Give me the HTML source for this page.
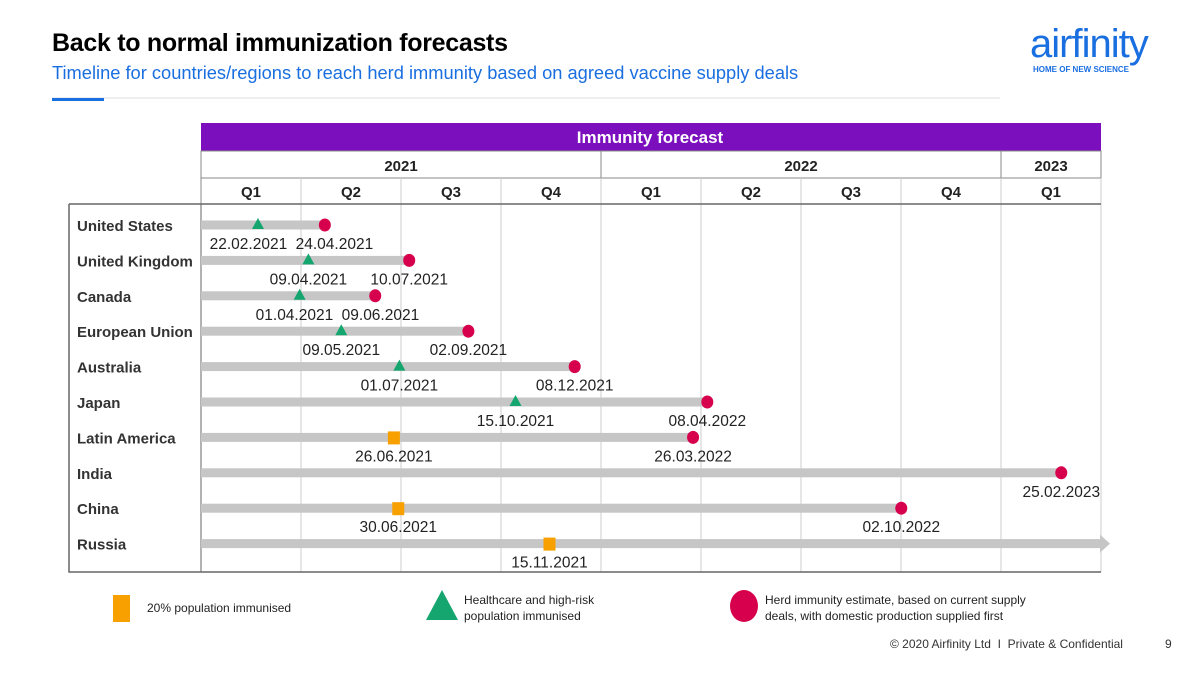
<!DOCTYPE html>
<html><head><meta charset="utf-8"><style>
body{margin:0;width:1200px;height:675px;background:#fff;font-family:"Liberation Sans",sans-serif;overflow:hidden;position:relative}
.t{position:absolute;white-space:nowrap}
</style></head><body>
<div class="t" style="left:52px;top:29px;font-size:25px;font-weight:bold;color:#000;letter-spacing:-0.3px">Back to normal immunization forecasts</div>
<div class="t" style="left:52px;top:62px;font-size:18.3px;color:#1a6fe0">Timeline for countries/regions to reach herd immunity based on agreed vaccine supply deals</div>
<div style="position:absolute;left:52px;top:97px;width:948px;height:2px;background:#eee"></div>
<div style="position:absolute;left:52px;top:98px;width:52px;height:3px;background:#1a6fe0"></div>
<div class="t" style="left:1030px;top:22px;font-size:40px;color:#1a6fe0;letter-spacing:-1px">airfinity</div>
<div class="t" style="left:1033px;top:65px;font-size:8px;font-weight:bold;color:#1a6fe0">HOME OF NEW SCIENCE</div>
<svg id="chart" width="1200" height="675" style="position:absolute;left:0;top:0"></svg>
<div class="t" style="left:147px;top:601px;font-size:12px;color:#222">20% population immunised</div>
<div class="t" style="left:464px;top:592px;font-size:12px;color:#222;line-height:16px">Healthcare and high-risk<br>population immunised</div>
<div class="t" style="left:765px;top:592px;font-size:12px;color:#222;line-height:16px">Herd immunity estimate, based on current supply<br>deals, with domestic production supplied first</div>
<div class="t" style="left:890px;top:637px;font-size:12px;color:#333">© 2020 Airfinity Ltd &nbsp;I&nbsp; Private &amp; Confidential</div>
<div class="t" style="left:1165px;top:637px;font-size:12px;color:#333">9</div>
<script>
const countries=["United States","United Kingdom","Canada","European Union","Australia","Japan","Latin America","India","China","Russia"];
const firstDates=["2021-02-22","2021-04-09","2021-04-01","2021-05-09","2021-07-01","2021-10-15","2021-06-26",null,"2021-06-30","2021-11-15"];
const firstTypes=["tri","tri","tri","tri","tri","tri","sq",null,"sq","sq"];
const herdDates=["2021-04-24","2021-07-10","2021-06-09","2021-09-02","2021-12-08","2022-04-08","2022-03-26","2023-02-25","2022-10-02",null];
const years=["2021","2022","2023"];
const quarters=["Q1","Q2","Q3","Q4","Q1","Q2","Q3","Q4","Q1"];
const NS="http://www.w3.org/2000/svg";
const svg=document.getElementById('chart');
const X0=201,QW=100,T0=Date.UTC(2021,0,1);
function xs(d){const p=d.split('-');return X0+(Date.UTC(+p[0],p[1]-1,+p[2])-T0)/86400000*(400/365);}
function rowY(i){return 225+i*35.4;}
function fmt(d){const p=d.split('-');return p[2]+'.'+p[1]+'.'+p[0];}
function el(tag,a,txt){const e=document.createElementNS(NS,tag);for(const k in a)e.setAttribute(k,a[k]);if(txt!=null)e.textContent=txt;svg.appendChild(e);return e;}
let e=el('rect',{x:X0,y:123,width:900,height:28,fill:'#7b0fbd'});


e=el('text',{x:650,y:143,'text-anchor':'middle','font-size':17,'font-weight':'bold',fill:'#fff'},'Immunity forecast');


el('rect',{x:X0,y:151,width:900,height:53,fill:'none',stroke:'#888'});
el('line',{x1:X0,y1:178,x2:1101,y2:178,stroke:'#888'});
const ySpans=[[0,4],[4,8],[8,9]];
years.forEach((y,i)=>{const a=X0+ySpans[i][0]*QW,b=X0+ySpans[i][1]*QW;
 el('line',{x1:b,y1:151,x2:b,y2:178,stroke:'#888'});
 e=el('text',{x:(a+b)/2,y:171,'text-anchor':'middle','font-size':15,'font-weight':'bold',fill:'#222'},y);
 
 });
quarters.forEach((q,i)=>{const a=X0+i*QW;
 el('line',{x1:a,y1:178,x2:a,y2:572,stroke:i==0?'#666':'#ccc','stroke-width':1});
 e=el('text',{x:a+QW/2,y:197,'text-anchor':'middle','font-size':15,'font-weight':'bold',fill:'#222'},q);
 
 });
el('line',{x1:1101,y1:178,x2:1101,y2:572,stroke:'#ccc'});
el('line',{x1:X0,y1:178,x2:X0,y2:204,stroke:'#888'});
el('polyline',{points:'69,204 69,572 1101,572',fill:'none',stroke:'#666','stroke-width':1.5});
el('line',{x1:69,y1:204,x2:1101,y2:204,stroke:'#666','stroke-width':1.5});
countries.forEach((c,i)=>{const y=rowY(i);
 e=el('text',{x:77,y:y+6,'font-size':15,'font-weight':'bold',fill:'#333'},c);
 
 
 const end=herdDates[i]?xs(herdDates[i]):1100;
 e=el('rect',{x:X0,y:y-4.5,width:end-X0,height:9,fill:'#c6c6c6'});
 
 
 if(!herdDates[i]){el('polygon',{points:`1100,${y-9} 1110,${y} 1100,${y+9}`,fill:'#c6c6c6'});}
 let lx=[],lt=[];
 if(firstDates[i]){const x=xs(firstDates[i]);lx.push(x);lt.push(fmt(firstDates[i]));
  if(firstTypes[i]=='tri'){e=el('polygon',{points:`${x},${y-7} ${x+6},${y+4} ${x-6},${y+4}`,fill:'#14a66e'});}
  else{e=el('rect',{x:x-6,y:y-6,width:12,height:13,fill:'#f7a000'});}
  }
 if(herdDates[i]){const x=xs(herdDates[i]);lx.push(x);lt.push(fmt(herdDates[i]));
  e=el('ellipse',{cx:x,cy:y,rx:6,ry:6.5,fill:'#d6004c'});
  
  }
 if(lx.length==2&&lx[1]-lx[0]<86){const m=(lx[0]+lx[1])/2;lx=[m-43,m+43];}
 lx.forEach((x,k)=>{e=el('text',{x:x,y:y+24,'text-anchor':'middle','font-size':15.5,fill:'#222'},lt[k]);
  
  });
});
e=el('rect',{x:113,y:595,width:17,height:27,fill:'#f7a000'});


e=el('polygon',{points:'442,590 458,620 426,620',fill:'#14a66e'});


e=el('ellipse',{cx:744,cy:606,rx:14,ry:16,fill:'#d6004c'});


</script>
</body></html>
